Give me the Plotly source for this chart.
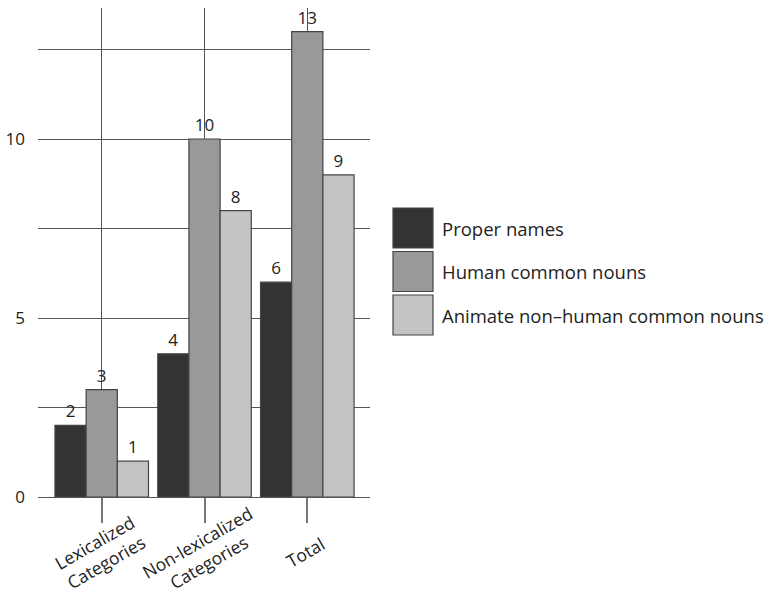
import plotly.graph_objects as go

# Category labels (two-line) and the three series of counts
categories = ["Lexicalized<br>Categories", "Non-lexicalized<br>Categories", "Total"]
series_names = ["Proper names", "Human common nouns", "Animate non\u2013human common nouns"]
proper_names = [2, 4, 6]
human_common = [3, 10, 13]
animate_nonhuman = [1, 8, 9]
series_colors = ["#333333", "#999999", "#c4c4c4"]

y_tickvals = [0, 2.5, 5, 7.5, 10, 12.5]
y_ticktext = ["0", "", "5", "", "10", ""]

FONT = "Open Sans"
TEXT_COLOR = "#222222"
GRID_COLOR = "#555555"

W, H = 774, 593
PL, PR, PT, PB = 38, 370, 8, 497  # plot-area edges in pixels

fig = go.Figure()
for name, vals, color in zip(series_names, [proper_names, human_common, animate_nonhuman], series_colors):
    fig.add_trace(go.Bar(
        x=categories, y=vals, name=name,
        marker=dict(color=color, line=dict(color="#444444", width=1.2)),
        text=[str(v) for v in vals], textposition="outside",
        textfont=dict(family=FONT, size=17, color=TEXT_COLOR),
        cliponaxis=False, showlegend=False,
    ))

# Rotated category labels centred under each tick
for cat in categories:
    fig.add_annotation(x=cat, xref="x", y=0, yref="y", yshift=-55, xshift=-2,
                       text=cat, showarrow=False, textangle=-30,
                       xanchor="center", yanchor="middle",
                       font=dict(family=FONT, size=17.5, color=TEXT_COLOR))

# Legend drawn as large swatches with labels beside them
legend_x0, legend_w = 393, 40
legend_top, legend_h, legend_step = 208, 40, 43.5


def px_x(x):
    return (x - PL) / (PR - PL)


def px_y(y):
    return (PB - y) / (PB - PT)


for i, (name, color) in enumerate(zip(series_names, series_colors)):
    y0 = legend_top + i * legend_step
    fig.add_shape(type="rect", xref="paper", yref="paper",
                  x0=px_x(legend_x0), x1=px_x(legend_x0 + legend_w),
                  y0=px_y(y0 + legend_h), y1=px_y(y0),
                  fillcolor=color, line=dict(color="#444444", width=1.2))
    fig.add_annotation(xref="paper", yref="paper",
                       x=px_x(legend_x0 + legend_w + 7), y=px_y(y0 + legend_h / 2),
                       text=name, showarrow=False, xanchor="left", yanchor="middle",
                       font=dict(family=FONT, size=18.5, color=TEXT_COLOR))

fig.update_layout(
    width=W, height=H,
    margin=dict(l=PL, r=W - PR, t=PT, b=H - PB),
    paper_bgcolor="white", plot_bgcolor="white",
    barmode="group", bargap=0.09, bargroupgap=0,
    font=dict(family=FONT, size=17, color=TEXT_COLOR),
    xaxis=dict(
        range=[-0.62, 2.61], showgrid=True, gridcolor=GRID_COLOR, gridwidth=1,
        ticks="outside", ticklen=25, tickcolor="#777777", tickwidth=1.5,
        showticklabels=False, showline=False, zeroline=False, automargin=False,
    ),
    yaxis=dict(
        range=[0, 13.66], tickvals=y_tickvals, ticktext=y_ticktext,
        showgrid=True, gridcolor=GRID_COLOR, gridwidth=1,
        zeroline=True, zerolinecolor=GRID_COLOR, zerolinewidth=1,
        showline=False, ticks="", ticklabelstandoff=12, automargin=False,
        tickfont=dict(family=FONT, size=17, color=TEXT_COLOR),
    ),
)

fig.write_html("out.html")
